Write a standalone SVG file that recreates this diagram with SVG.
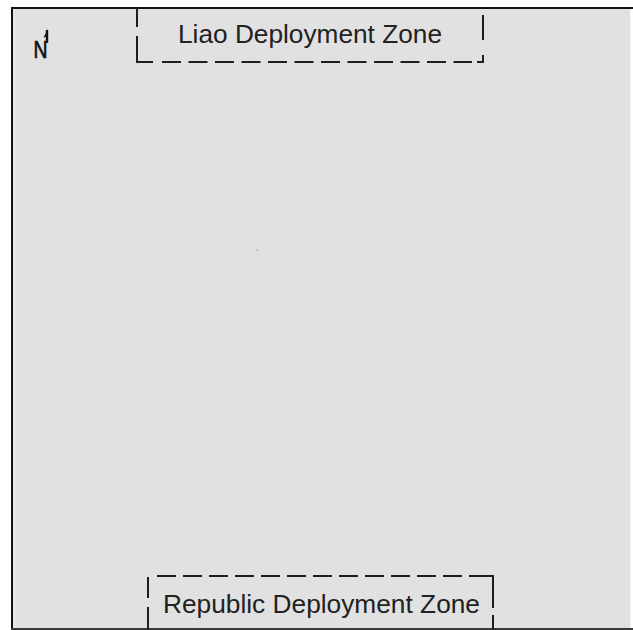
<svg xmlns="http://www.w3.org/2000/svg" width="633" height="630" viewBox="0 0 633 630">
  <style>
    .zone { fill: none; stroke: #1e1e1e; stroke-width: 2; stroke-linecap: butt; }
    .lbl { font-family: "Liberation Sans", Arial, sans-serif; font-size: 26px; fill: #222; }
  </style>
  <rect x="0" y="0" width="633" height="630" fill="#ffffff"/>
  <g id="map">
    <rect x="11" y="7" width="620" height="623" fill="#e1e1e1"/>
    <line x1="12" y1="7" x2="12" y2="630" stroke="#111" stroke-width="2"/>
    <line x1="14.5" y1="9" x2="14.5" y2="627" stroke="#ececec" stroke-width="1"/>
    <line x1="11" y1="8" x2="633" y2="8" stroke="#111" stroke-width="2"/>
    <line x1="630.5" y1="9" x2="630.5" y2="628" stroke="#f3f3f3" stroke-width="1"/>
    <line x1="11" y1="629" x2="633" y2="629" stroke="#3a3a3a" stroke-width="2"/>
    <circle cx="257" cy="250" r="1" fill="#b8b8b8"/>
  </g>
  <g id="north-arrow">
    <text x="33.5" y="58" font-family="Liberation Sans, Arial, sans-serif" font-size="24" fill="#111" stroke="#111" stroke-width="0.7" textLength="14" lengthAdjust="spacingAndGlyphs">N</text>
    <line x1="47" y1="43" x2="47" y2="30" stroke="#111" stroke-width="2.4"/>
    <polygon points="48,29 43.5,37.5 48,36.5" fill="#111"/>
  </g>
  <g id="liao-zone">
    <path class="zone" d="M137,8 V27 M137,36 V62 H153 M162,62 H181 M188.5,62 H207.5 M215,62 H234 M241.5,62 H260.5 M268,62 H287 M294.5,62 H313.5 M321,62 H340 M347.5,62 H366.5 M374,62 H393 M400.5,62 H419.5 M427,62 H446 M453.5,62 H472 M477,62 H483 V55 M483,40 V15"/>
    <text class="lbl" x="178" y="42.5" textLength="264" lengthAdjust="spacingAndGlyphs">Liao Deployment Zone</text>
  </g>
  <g id="republic-zone">
    <path class="zone" d="M148,577 V598 M148,607 V630 M157,576 H176 M183,576 H202 M209,576 H228 M235,576 H254 M261,576 H280 M287,576 H306 M313,576 H332 M339,576 H358 M365,576 H384 M391,576 H410 M417,576 H436 M443,576 H462 M469,576 H493 V608 M493,615 V630"/>
    <text class="lbl" x="163" y="612.5" textLength="317" lengthAdjust="spacingAndGlyphs">Republic Deployment Zone</text>
  </g>
</svg>
